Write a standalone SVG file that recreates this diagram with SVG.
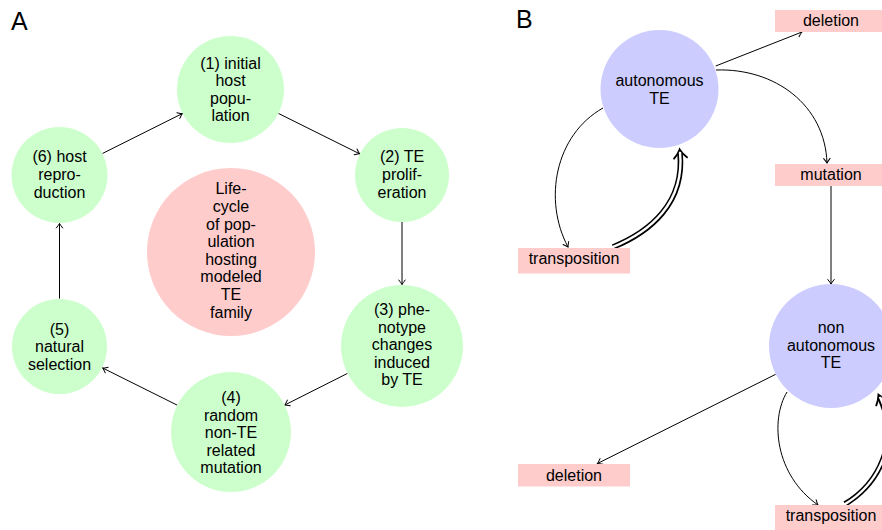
<svg xmlns="http://www.w3.org/2000/svg" width="882" height="530" viewBox="0 0 882 530">
<defs>
<style>
text{font-family:"Liberation Sans",Arial,sans-serif;font-size:16px;fill:#000;text-anchor:middle}
.lbl{font-size:25px;text-anchor:start}
.g{fill:#ccffcc}
.p{fill:#ffcccc}
.b{fill:#ccccff}
.e{fill:none;stroke:#000;stroke-width:1}
.dbo{fill:none;stroke:#000;stroke-width:5.6}
.dbi{fill:none;stroke:#fff;stroke-width:2.4}
</style>
<marker id="ah" markerUnits="userSpaceOnUse" viewBox="-6 -5 8 10" refX="0" refY="0" markerWidth="8" markerHeight="10" orient="auto" overflow="visible">
<path d="M-4.5,-3.2 Q-1.2,-0.6 0,0 Q-1.2,0.6 -4.5,3.2" fill="none" stroke="#000" stroke-width="1" stroke-linecap="round"/>
</marker>
<marker id="dh" markerUnits="userSpaceOnUse" viewBox="-10 -10 16 20" refX="0" refY="0" markerWidth="16" markerHeight="20" orient="auto" overflow="visible">
<path d="M-5,-6.5 Q-1,-2.2 3.5,0 Q-1,2.2 -5,6.5" fill="none" stroke="#000" stroke-width="1.9" stroke-linecap="round"/>
</marker>
</defs>
<rect width="882" height="530" fill="#fff"/>
<text class="lbl" x="11" y="30">A</text>
<text class="lbl" x="516" y="28">B</text>

<g id="connectors">
<line class="e" x1="102.4" y1="153.5" x2="182.4" y2="113.5" marker-end="url(#ah)"/>
<line class="e" x1="278.4" y1="113.4" x2="359.6" y2="153.8" marker-end="url(#ah)"/>
<line class="e" x1="402" y1="222" x2="402" y2="284.5" marker-end="url(#ah)"/>
<line class="e" x1="347.5" y1="373.4" x2="284.8" y2="405" marker-end="url(#ah)"/>
<line class="e" x1="177.3" y1="405.2" x2="102.7" y2="368" marker-end="url(#ah)"/>
<line class="e" x1="59.5" y1="298.5" x2="59.5" y2="223.5" marker-end="url(#ah)"/>

<line class="e" x1="715.7" y1="66" x2="802" y2="32" marker-end="url(#ah)"/>
<path class="e" d="M716,70 C775,68 825,105 827,163" marker-end="url(#ah)"/>
<path class="e" d="M603,108 C555,135 543,200 568,247" marker-end="url(#ah)"/>
<path class="dbo" d="M613,247 C650,232 685,203 680,153" marker-end="url(#dh)"/>
<path class="dbi" d="M612,247.4 C650,232 685,203 680,152"/>
<line class="e" x1="831" y1="186" x2="831" y2="284" marker-end="url(#ah)"/>
<line class="e" x1="775.7" y1="374.3" x2="597.5" y2="463.5" marker-end="url(#ah)"/>
<path class="e" d="M787,392 C770,420 775,475 818,505" marker-end="url(#ah)"/>
<path class="dbo" d="M845,504 C880,483 900,440 880,398" marker-end="url(#dh)"/>
<path class="dbi" d="M844.3,504.6 C880,483 900,440 880,397"/>
</g>

<g id="n1"><circle class="g" cx="230.5" cy="89.5" r="53.5"/>
<text x="230.5" y="68.5">(1) initial</text><text x="230.5" y="86.1">host</text><text x="230.5" y="103.7">popu-</text><text x="230.5" y="121.3">lation</text></g>
<g id="n2"><circle class="g" cx="402" cy="175" r="47"/>
<text x="402" y="162.4">(2) TE</text><text x="402" y="180">prolif-</text><text x="402" y="197.6">eration</text></g>
<g id="n3"><circle class="g" cx="402" cy="346" r="61"/>
<text x="402" y="315">(3) phe-</text><text x="402" y="332.5">notype</text><text x="402" y="350">changes</text><text x="402" y="367.5">induced</text><text x="402" y="385">by TE</text></g>
<g id="n4"><circle class="g" cx="231" cy="432" r="60"/>
<text x="231" y="403">(4)</text><text x="231" y="420.5">random</text><text x="231" y="438">non-TE</text><text x="231" y="455.5">related</text><text x="231" y="473">mutation</text></g>
<g id="n5"><circle class="g" cx="59.5" cy="346.5" r="47.5"/>
<text x="59.5" y="334.7">(5)</text><text x="59.5" y="352.3">natural</text><text x="59.5" y="369.9">selection</text></g>
<g id="n6"><circle class="g" cx="59.5" cy="175" r="48"/>
<text x="59.5" y="162.4">(6) host</text><text x="59.5" y="180">repro-</text><text x="59.5" y="197.6">duction</text></g>
<g id="center"><circle class="p" cx="231" cy="252" r="84"/>
<text x="231" y="194.4">Life-</text><text x="231" y="212">cycle</text><text x="231" y="229.6">of pop-</text><text x="231" y="247.2">ulation</text><text x="231" y="264.8">hosting</text><text x="231" y="282.4">modeled</text><text x="231" y="300">TE</text><text x="231" y="317.6">family</text></g>

<g id="autonomous"><circle class="b" cx="659.5" cy="89" r="59"/>
<text x="659.5" y="86">autonomous</text><text x="659.5" y="103.5">TE</text></g>
<g id="deletion1"><rect class="p" x="775" y="10" width="112" height="22"/><text x="831" y="26">deletion</text></g>
<g id="mutation"><rect class="p" x="775" y="164" width="112" height="22"/><text x="831" y="180">mutation</text></g>
<g id="transposition1"><rect class="p" x="518" y="248" width="112" height="25.5"/><text x="574" y="263.5">transposition</text></g>
<g id="nonautonomous"><circle class="b" cx="831" cy="346" r="62"/>
<text x="831" y="333.2">non</text><text x="831" y="350.8">autonomous</text><text x="831" y="368.4">TE</text></g>
<g id="deletion2"><rect class="p" x="518" y="464" width="112" height="22.5"/><text x="574" y="480.5">deletion</text></g>
<g id="transposition2"><rect class="p" x="775" y="505" width="112" height="25.5"/><text x="831" y="521">transposition</text></g>
</svg>
